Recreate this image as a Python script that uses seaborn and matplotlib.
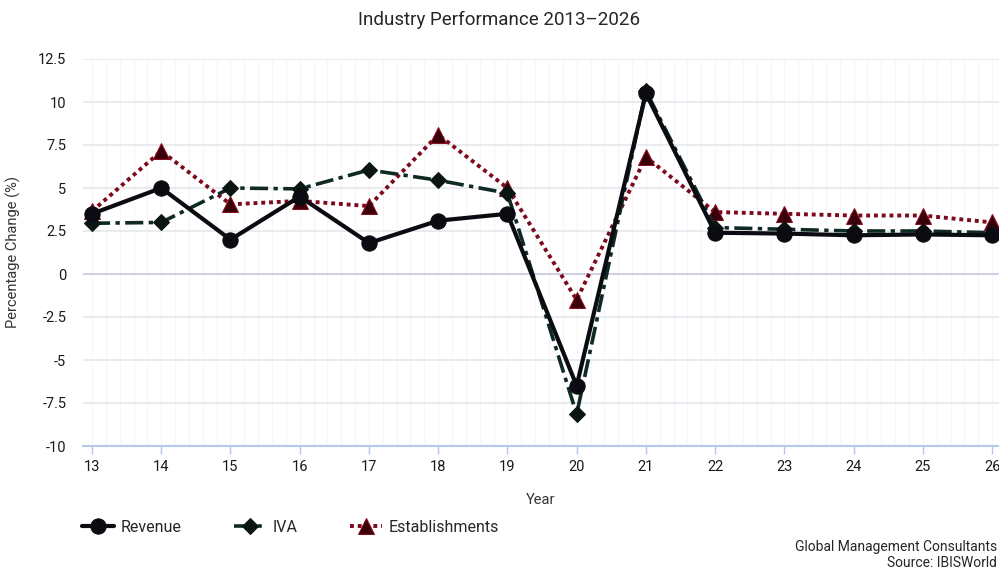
import pandas as pd
import matplotlib.pyplot as plt
import matplotlib.ticker as mticker
import seaborn as sns

# Chart data
years = [13, 14, 15, 16, 17, 18, 19, 20, 21, 22, 23, 24, 25, 26]
revenue = [3.5, 5.0, 2.0, 4.5, 1.8, 3.1, 3.5, -6.5, 10.5, 2.4, 2.35, 2.25, 2.3, 2.25]
iva = [2.95, 3.0, 5.0, 4.95, 6.05, 5.45, 4.7, -8.15, 10.65, 2.7, 2.6, 2.5, 2.5, 2.4]
establishments = [3.65, 7.15, 4.05, 4.25, 3.95, 8.1, 5.0, -1.5, 6.8, 3.6, 3.5, 3.4, 3.4, 3.0]
y_ticks = [-10, -7.5, -5, -2.5, 0, 2.5, 5, 7.5, 10, 12.5]

df = pd.DataFrame({"Year": years, "Revenue": revenue, "IVA": iva, "Establishments": establishments})

sns.set_style("white")
plt.rcParams["font.family"] = ["Roboto", "DejaVu Sans"]

fig = plt.figure(figsize=(9.99, 5.71), dpi=100)
ax = fig.add_axes([83 / 999, 1 - 446 / 571, (999 - 83) / 999, (446 - 59) / 571])

sns.lineplot(data=df, x="Year", y="Revenue", ax=ax, color="#0b0b12", lw=3, marker="o",
             markersize=11, markerfacecolor="#0b0b12", markeredgecolor="#0b0b12",
             label="Revenue", zorder=4)
sns.lineplot(data=df, x="Year", y="IVA", ax=ax, color="#0f2a24", lw=2.6, linestyle=(0, (5, 1.5, 1.2, 1.5)),
             marker="D", markersize=8, markerfacecolor="#0b1512", markeredgecolor="#0b1512",
             label="IVA", zorder=3)
sns.lineplot(data=df, x="Year", y="Establishments", ax=ax, color="#7c0a1c", lw=2.8, linestyle=(0, (1, 1)),
             marker="^", markersize=11, markerfacecolor="#3a0009", markeredgecolor="#8a0f22",
             label="Establishments", zorder=2)

ax.set_xlim(12.87, 26.1)
ax.set_ylim(-10, 12.5)
ax.set_xticks(years)
ax.set_yticks(y_ticks)
ax.set_yticklabels([f"{v:g}" for v in y_ticks])
ax.xaxis.set_minor_locator(mticker.MultipleLocator(0.2))
ax.grid(True, axis="y", color="#e6e6ef", lw=1.2)
ax.grid(True, axis="x", which="both", color="#f6f6f9", lw=0.8)
ax.axhline(0, color="#c9cce4", lw=1.2, zorder=1)
ax.set_axisbelow(True)

for s in ["top", "right", "left"]:
    ax.spines[s].set_visible(False)
ax.spines["bottom"].set_color("#b6c8ea")
ax.spines["bottom"].set_linewidth(1.5)
ax.tick_params(axis="x", which="major", bottom=True, direction="out", length=6, color="#b6c8ea",
               width=1, labelsize=10.5, pad=4, labelcolor="#1a1a1a")
ax.tick_params(axis="x", which="minor", length=0)
ax.tick_params(axis="y", length=0, labelsize=10.5, pad=12, labelcolor="#1a1a1a")

ax.set_xlabel("Year", fontsize=10.5, color="#333333", labelpad=14)
ax.set_ylabel("Percentage Change (%)", fontsize=10.5, color="#333333", labelpad=12)
fig.text(0.5, 1 - 20 / 571, "Industry Performance 2013\u20132026", ha="center", va="center", fontsize=13.5)

ax.legend(loc="center left", bbox_to_anchor=(68 / 999, 1 - 527 / 571), bbox_transform=fig.transFigure,
          ncol=3, frameon=False, fontsize=11.5, handlelength=2.0, columnspacing=3.3, handletextpad=0.4)

fig.text(997 / 999, 1 - 547 / 571, "Global Management Consultants", ha="right", va="center", fontsize=10)
fig.text(997 / 999, 1 - 563 / 571, "Source: IBISWorld", ha="right", va="center", fontsize=10)

fig.savefig("out.png", dpi=100)
